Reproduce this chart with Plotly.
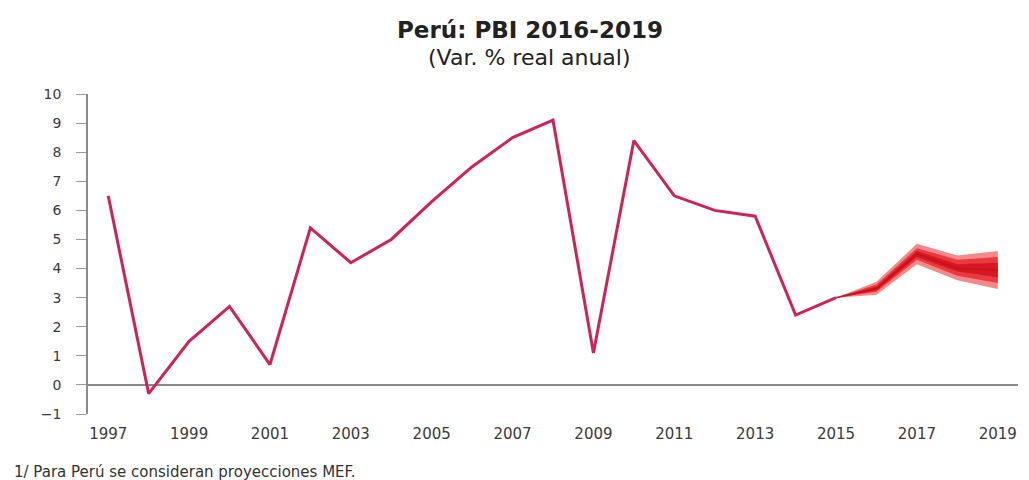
import plotly.graph_objects as go

years = [1997, 1998, 1999, 2000, 2001, 2002, 2003, 2004, 2005, 2006,
         2007, 2008, 2009, 2010, 2011, 2012, 2013, 2014, 2015]
pbi = [6.5, -0.3, 1.5, 2.7, 0.7, 5.4, 4.2, 5.0, 6.3, 7.5,
       8.5, 9.1, 1.1, 8.4, 6.5, 6.0, 5.8, 2.4, 3.0]

fan_years = [2015, 2016, 2017, 2018, 2019]
fan_center = [3.0, 3.3, 4.5, 4.0, 3.95]
outer_hi = [3.0, 3.55, 4.85, 4.45, 4.6]
outer_lo = [3.0, 3.1, 4.15, 3.6, 3.3]
mid_hi = [3.0, 3.45, 4.7, 4.3, 4.4]
mid_lo = [3.0, 3.2, 4.3, 3.75, 3.5]
inner_hi = [3.0, 3.38, 4.6, 4.15, 4.2]
inner_lo = [3.0, 3.25, 4.4, 3.9, 3.7]

x_ticks = list(range(1997, 2020, 2))
y_ticks = list(range(-1, 11))

title = "Perú: PBI 2016-2019"
subtitle = "(Var. % real anual)"
footnote = "1/ Para Perú se consideran proyecciones MEF."

fig = go.Figure()

bands = [(outer_lo, outer_hi, "rgba(236,40,40,0.55)"),
         (mid_lo, mid_hi, "rgba(228,24,32,0.7)"),
         (inner_lo, inner_hi, "rgba(210,16,28,0.8)")]
for lo, hi, col in bands:
    fig.add_trace(go.Scatter(x=fan_years, y=hi, mode="lines",
                             line=dict(width=0, color=col), hoverinfo="skip",
                             showlegend=False))
    fig.add_trace(go.Scatter(x=fan_years, y=lo, mode="lines", fill="tonexty",
                             fillcolor=col, line=dict(width=0, color=col),
                             hoverinfo="skip", showlegend=False))

fig.add_trace(go.Scatter(x=fan_years, y=fan_center, mode="lines",
                         line=dict(color="rgba(200,16,28,0.8)", width=2),
                         showlegend=False))

fig.add_trace(go.Scatter(x=years, y=pbi, mode="lines",
                         line=dict(color="#cf2358", width=3),
                         showlegend=False))

fig.update_layout(
    width=1029, height=480,
    margin=dict(l=88, r=11, t=94, b=66),
    paper_bgcolor="white", plot_bgcolor="white",
    font=dict(family="DejaVu Sans", color="#333333"),
    xaxis=dict(range=[1996.5, 2019.5], tickvals=x_ticks,
               ticktext=[str(v) for v in x_ticks],
               showgrid=False, zeroline=False, showline=False,
               ticks="", tickfont=dict(size=15, color="#3a3a3a"),
               ticklabelstandoff=9),
    yaxis=dict(range=[-1, 10], tickvals=y_ticks,
               showgrid=False, zeroline=True, zerolinecolor="#8a8a8a",
               zerolinewidth=1.5, showline=True, linecolor="#8a8a8a",
               linewidth=1.5, ticks="outside", ticklen=10, tickcolor="#9a9a9a",
               ticklabelstandoff=12,
               tickfont=dict(size=14, color="#3a3a3a")),
    annotations=[
        dict(text="<b>" + title + "</b>", xref="paper", yref="paper",
             x=0.475, y=1, xanchor="center", yanchor="middle", yshift=64,
             showarrow=False, font=dict(size=23, color="#222222")),
        dict(text=subtitle, xref="paper", yref="paper",
             x=0.475, y=1, xanchor="center", yanchor="middle", yshift=37,
             showarrow=False, font=dict(size=22, color="#222222")),
        dict(text=footnote, xref="paper", yref="paper",
             x=0, y=0, xanchor="left", yanchor="top", xshift=-76, yshift=-47,
             showarrow=False, font=dict(size=15, color="#333333")),
    ],
)

fig.write_html("out.html")
